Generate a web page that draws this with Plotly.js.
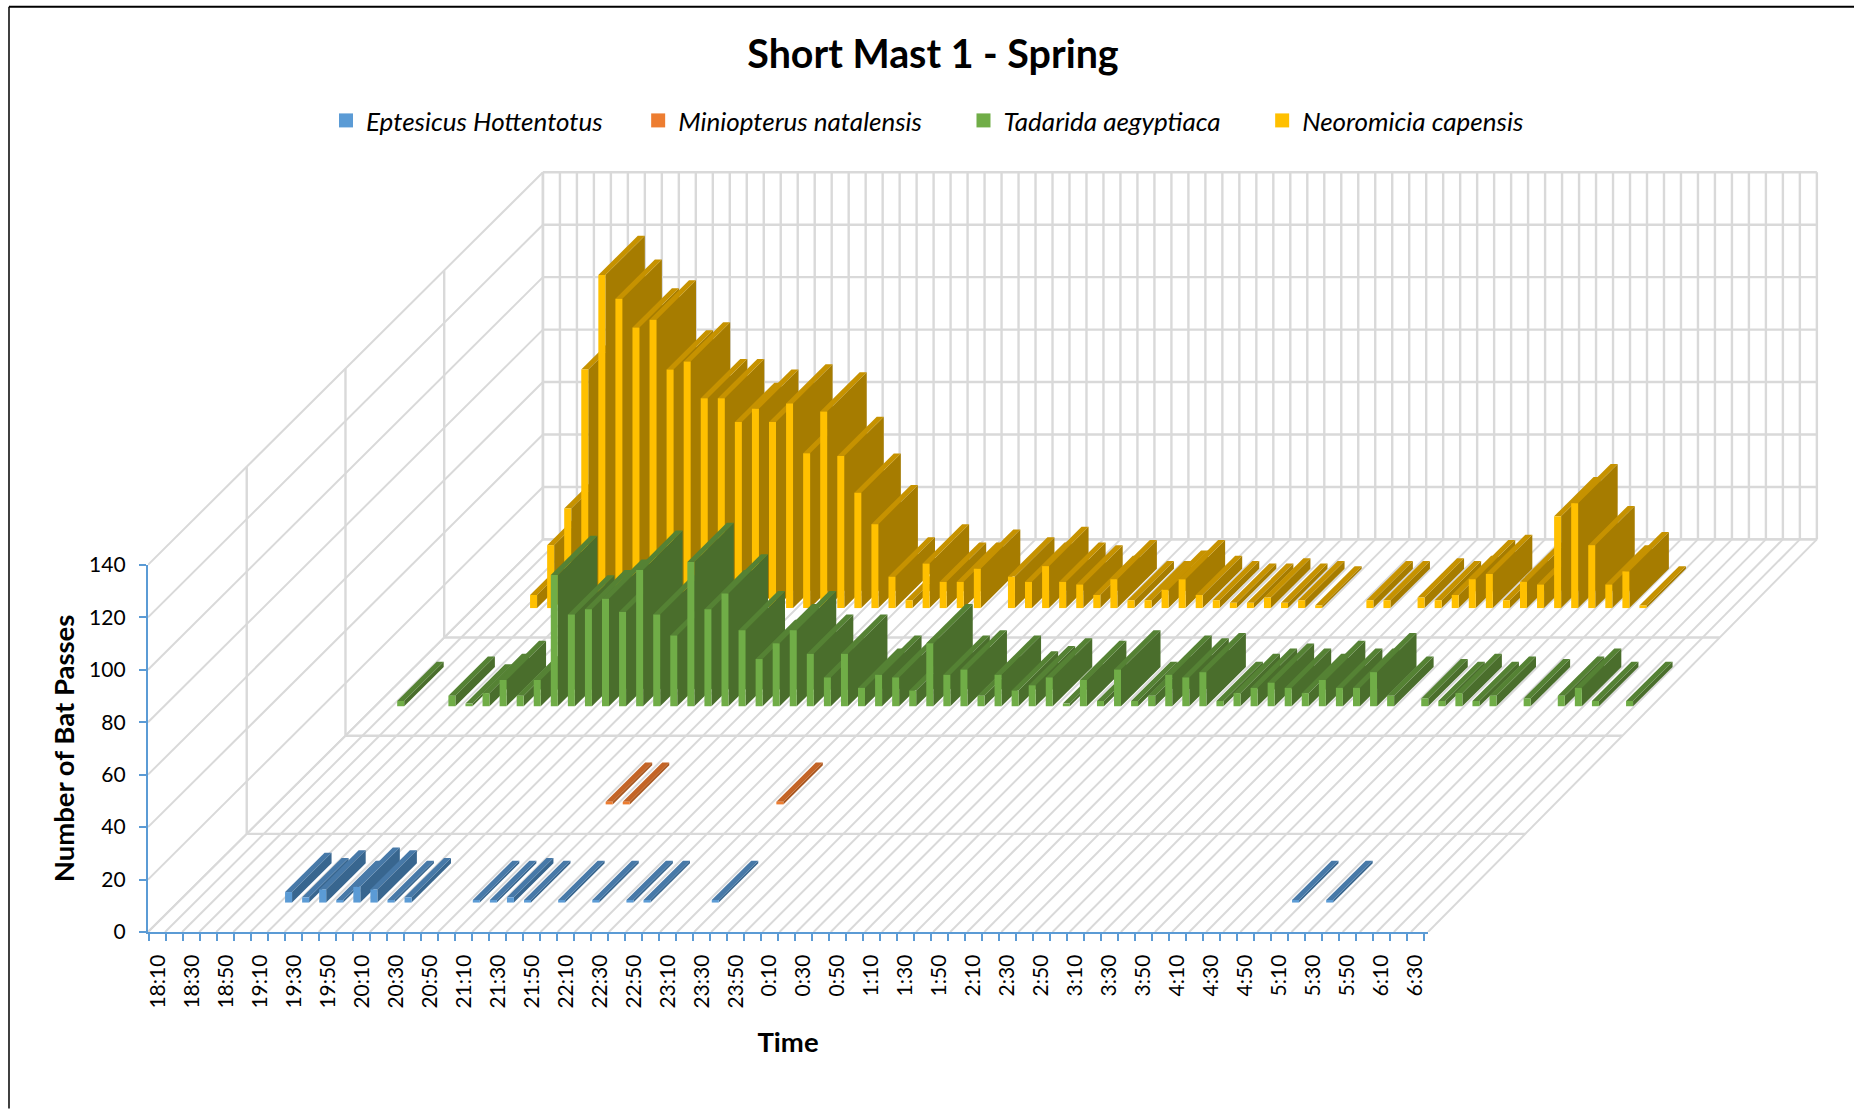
<!DOCTYPE html>
<html>
<head>
<meta charset="utf-8">
<script src="https://cdn.plot.ly/plotly-3.0.1.min.js"></script>
<style>html,body{margin:0;padding:0;background:#fff}</style>
</head>
<body>
<div id="chart"></div>
<script>
const times = ["18:10","18:20","18:30","18:40","18:50","19:00","19:10","19:20","19:30","19:40",
"19:50","20:00","20:10","20:20","20:30","20:40","20:50","21:00","21:10","21:20",
"21:30","21:40","21:50","22:00","22:10","22:20","22:30","22:40","22:50","23:00",
"23:10","23:20","23:30","23:40","23:50","0:00","0:10","0:20","0:30","0:40",
"0:50","1:00","1:10","1:20","1:30","1:40","1:50","2:00","2:10","2:20",
"2:30","2:40","2:50","3:00","3:10","3:20","3:30","3:40","3:50","4:00",
"4:10","4:20","4:30","4:40","4:50","5:00","5:10","5:20","5:30","5:40",
"5:50","6:00","6:10","6:20","6:30"];
const seriesNames = ["Eptesicus Hottentotus","Miniopterus natalensis","Tadarida aegyptiaca","Neoromicia capensis"];
const eptesicus = [0,0,0,0,0,0,4,2,5,1, 6,5,1,2,0,0,0,1,1,2, 1,0,1,0,1,0,1,1,0,0, 0,1,0,0,0,0,0,0,0,0,
0,0,0,0,0,0,0,0,0,0, 0,0,0,0,0,0,0,0,0,0, 0,0,0,0,0,1,0,1,0,0, 0,0,0,0,0];
const miniopterus = [0,0,0,0,0,0,0,0,0,0, 0,0,0,0,0,0,0,0,0,1, 1,0,0,0,0,0,0,0,0,1, 0,0,0,0,0,0,0,0,0,0,
0,0,0,0,0,0,0,0,0,0, 0,0,0,0,0,0,0,0,0,0, 0,0,0,0,0,0,0,0,0,0, 0,0,0,0,0];
const tadarida = [0,2,0,0,4,1,5,10,4,10, 50,35,37,41,36,52,35,27,55,37, 43,29,18,24,29,20,11,20,7,12, 11,6,24,12,14,4,12,6,8,11,
1,10,2,14,2,4,12,11,13,2, 5,7,9,7,5,10,7,7,13,4, 0,3,2,5,2,4,0,3,0,4, 7,2,0,2,0];
const neoromicia = [0,0,0,5,24,38,91,127,118,107, 110,91,94,80,80,71,76,71,78,59, 75,58,44,32,12,3,17,10,10,15, 0,12,10,16,10,9,5,11,3,3,
7,11,5,3,2,2,4,2,3,1, 0,0,3,3,0,4,3,5,11,13, 3,10,9,35,40,24,9,14,1,0, 0,0,0,0,0];
const valueTicks = [0,20,40,60,80,100,120,140];
const faceColors = [
  {front:"#5B9BD5", side:"#38668F", top:"#4779A8"},
  {front:"#ED7D31", side:"#A9561E", top:"#C46426"},
  {front:"#70AD47", side:"#4A6E2C", top:"#558234"},
  {front:"#FFC000", side:"#A67C00", top:"#C69200"}
];
const seriesValues = [eptesicus, miniopterus, tadarida, neoromicia];
const legendPad = [5,6,6,2];

// oblique projection of the Excel 3-D floor: one depth slot shifts this many axis units
const SLOT_X = 5.785, SLOT_Y = 37.43, WALL_SHRINK = 0.0012;
const px = (c,v,d) => c + d*SLOT_X;
const py = (c,v,d) => v + d*SLOT_Y;
const gx = (c,v,d) => c*(1-WALL_SHRINK*d) + d*SLOT_X;
function poly(pts, color){
  return {type:"scatter", mode:"lines", x:pts.map(p=>px(...p)), y:pts.map(p=>py(...p)),
    fill:"toself", fillcolor:color, line:{width:0, color:color}, hoverinfo:"skip",
    showlegend:false};
}
function gridTrace(segs, w){
  const x=[], y=[];
  segs.forEach(([a,b])=>{ x.push(gx(...a),gx(...b),null); y.push(py(...a),py(...b),null); });
  return {type:"scatter", mode:"lines", x, y, line:{color:"#D9D9D9", width:w}, hoverinfo:"skip",
    showlegend:false, connectgaps:false};
}
const nCat = times.length, nSlot = seriesNames.length, vMax = valueTicks[valueTicks.length-1];
const catIdx = times.map((t,i)=>i).concat([nCat]);
const slotIdx = [0,1,2,3,4];
const traces = [];
// legend entries live on the visible axes
seriesNames.forEach((n,s)=>{
  traces.push({type:"scatter", mode:"markers", xaxis:"x2", yaxis:"y2", x:[null], y:[null],
    name:n+"\u00a0".repeat(legendPad[s]), marker:{symbol:"square", size:14, color:faceColors[s].front}, hoverinfo:"skip"});
});
// walls and floor
traces.push(gridTrace(catIdx.map(c=>[[c,0,0],[c,0,nSlot]]), 2));
traces.push(gridTrace(slotIdx.slice(1).map(d=>[[0,0,d],[nCat,0,d]]), 2.4));
traces.push(gridTrace(catIdx.map(c=>[[c,0,nSlot],[c,vMax,nSlot]]), 2.4));
traces.push(gridTrace(valueTicks.map(v=>[[0,v,nSlot],[nCat,v,nSlot]]), 2.4));
traces.push(gridTrace(valueTicks.map(v=>[[0,v,0],[0,v,nSlot]]), 2));
traces.push(gridTrace(slotIdx.slice(1).map(d=>[[0,0,d],[0,vMax,d]]), 2.4));
// bars, back series first, left to right
const L=0.295, R=0.705, D0=0.3, D1=0.7;
for(let s=nSlot-1;s>=0;s--){
  const col=faceColors[s], d0=s+D0, d1=s+D1;
  seriesValues[s].forEach((v,i)=>{
    if(!v) return;
    const l=i+L, r=i+R;
    traces.push(poly([[r,0,d0],[r,0,d1],[r,v,d1],[r,v,d0]], col.side));
    traces.push(poly([[l,v,d0],[r,v,d0],[r,v,d1],[l,v,d1]], col.top));
    traces.push(poly([[l,0,d0],[r,0,d0],[r,v,d0],[l,v,d0]], col.front));
  });
}
const W=1854,H=1109, PXC=17.067, PXV=2.625, pL=148, pB=932.3;
const xTop=nCat+nSlot*SLOT_X, yTop=vMax+nSlot*SLOT_Y+2;
const pR=pL+xTop*PXC, pT=pB-yTop*PXV, pw=pR-pL, ph=pB-pT;
const FONT="Lato, 'Open Sans', sans-serif", BLUE="#5B9BD5";
const fx=p=>(p-pL)/pw, fy=p=>(pB-p)/ph;
const layout = {
  width:W, height:H, paper_bgcolor:"#fff", plot_bgcolor:"rgba(0,0,0,0)",
  margin:{l:pL,r:W-pR,t:pT,b:H-pB,pad:0}, font:{family:FONT,color:"#000"},
  title:{text:"<b>Short Mast 1 - Spring</b>", font:{size:39.4,family:FONT,color:"#000"},
    xref:"container", yref:"container", x:933/W, y:1-54/H, xanchor:"center", yanchor:"middle"},
  showlegend:true,
  legend:{orientation:"h", x:fx(326), y:fy(120), xanchor:"left", yanchor:"middle",
    font:{size:26,style:"italic",family:FONT,color:"#000"}, bgcolor:"rgba(0,0,0,0)", traceorder:"normal"},
  xaxis:{domain:[0,1], range:[0,xTop], visible:false, fixedrange:true, anchor:"y"},
  yaxis:{domain:[0,1], range:[0,yTop], visible:false, fixedrange:true, anchor:"x"},
  xaxis2:{domain:[0,nCat/xTop], range:[0,nCat], anchor:"y2", tickmode:"array",
    tickvals:times.map((t,i)=>0.6+i*0.9951).filter((v,i)=>i%2===0),
    ticktext:times.filter((t,i)=>i%2===0), tickangle:-90, ticks:"", ticklabelstandoff:12,
    tickfont:{size:21,family:FONT,color:"#000"}, showgrid:false, zeroline:false, showline:true, linecolor:BLUE, linewidth:2.4,
    minor:{tickmode:"array", tickvals:catIdx.map(i=>0.05+i*0.9961), ticks:"outside", ticklen:7, tickwidth:2.4, tickcolor:BLUE, showgrid:false},
    fixedrange:true, title:{text:"<b>Time</b>", font:{size:27.5,family:FONT,color:"#000"}, standoff:25}},
  yaxis2:{domain:[0,vMax/yTop], range:[0,vMax], anchor:"x2", tickmode:"array", tickvals:valueTicks, ticks:"outside", ticklen:7, tickwidth:2.4, tickcolor:BLUE,
    ticklabelstandoff:9, tickfont:{size:21,family:FONT,color:"#000"}, showgrid:false, zeroline:false, showline:true, linecolor:BLUE, linewidth:2.4,
    fixedrange:true, title:{text:"<b>Number of Bat Passes</b>", font:{size:27.5,family:FONT,color:"#000"}, standoff:6}},
  shapes:[
    {type:"line", xref:"paper", yref:"paper", x0:fx(9), x1:fx(W), y0:fy(6), y1:fy(6), line:{color:"#000",width:2}},
    {type:"line", xref:"paper", yref:"paper", x0:fx(9), x1:fx(9), y0:fy(6), y1:fy(H), line:{color:"#000",width:1.5}}
  ]
};
Plotly.newPlot("chart", traces, layout, {displayModeBar:false, responsive:false});
</script>
</body>
</html>
